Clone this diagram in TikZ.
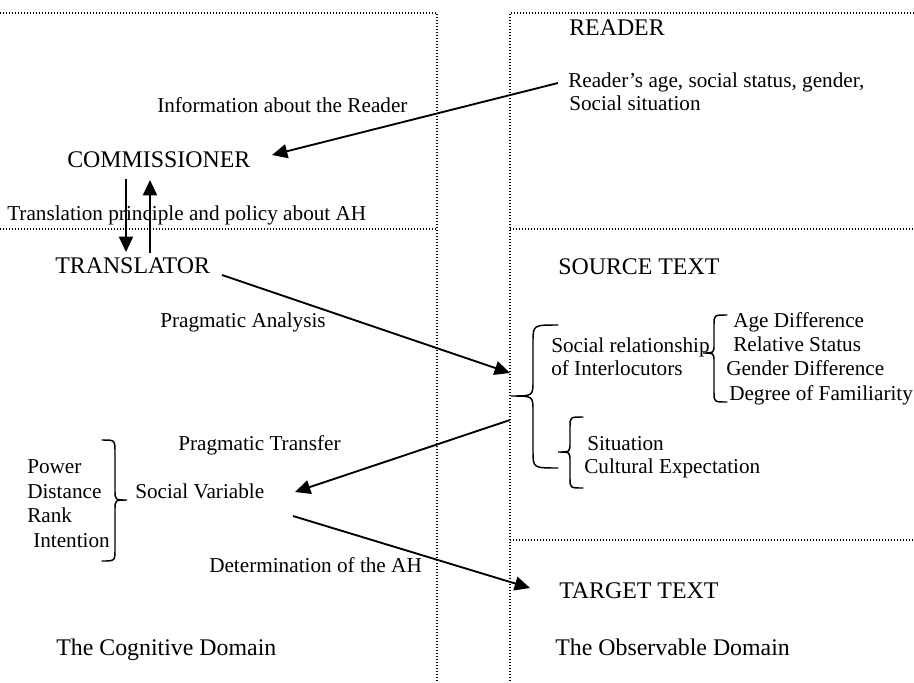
\documentclass[tikz,border=0pt]{standalone}
\usepackage{fontspec}
\setmainfont{Liberation Serif}
\usetikzlibrary{arrows.meta}
\begin{document}
\begin{tikzpicture}[x=0.75pt,y=-0.75pt,
  big/.style={font=\fontsize{17.9}{20}\selectfont, inner sep=0pt, anchor=base west},
  small/.style={font=\fontsize{15.9}{18}\selectfont, inner sep=0pt, anchor=base west},
  arr/.style={line width=1.4pt, -{Triangle[length=11.5pt,width=10.5pt]}},
  dotline/.style={line width=0.9pt, dash pattern=on 0.9pt off 1.35pt},
  bracestroke/.style={line width=1.1pt, line cap=round}]
\useasboundingbox (0,0) rectangle (914,682);

% dotted frames
\draw[dotline] (0,13) -- (437,13) -- (437,682);
\draw[dotline] (0,229) -- (437,229);
\draw[dotline] (914,13) -- (510,13) -- (510,682);
\draw[dotline] (510,229) -- (914,229);
\draw[dotline] (510,540) -- (914,540);

% texts
\node[big] (reader) at (569,35) {READER};
\node[small] (rattr1) at (568,87) {Reader’s age, social status, gender,};
\node[small] (rattr2) at (569,110) {Social situation};
\node[small] (info) at (157,112) {Information about the Reader};
\node[big] (comm) at (67,167) {COMMISSIONER};
\node[small] (policy) at (7,220) {Translation principle and policy about AH};
\node[big] (trans) at (55,273) {TRANSLATOR};
\node[big] (source) at (558,274) {SOURCE TEXT};
\node[small] (panal) at (160,327) {Pragmatic Analysis};
\node[small] (socrel1) at (551,352) {Social relationship};
\node[small] (socrel2) at (551,375) {of Interlocutors};
\node[small] (age) at (733,327) {Age Difference};
\node[small] (rel) at (733,351) {Relative Status};
\node[small] (gen) at (726,375) {Gender Difference};
\node[small] (fam) at (729,400) {Degree of Familiarity};
\node[small] (ptrans) at (178,450) {Pragmatic Transfer};
\node[small] (sit) at (587,450) {Situation};
\node[small] (cult) at (584,473) {Cultural Expectation};
\node[small] (power) at (27,473) {Power};
\node[small] (dist) at (27,498) {Distance};
\node[small] (rank) at (27,522) {Rank};
\node[small] (intent) at (33,547) {Intention};
\node[small] (socvar) at (135,498) {Social Variable};
\node[small] (determ) at (209,572) {Determination of the AH};
\node[big] (target) at (559,598) {TARGET TEXT};
\node[big] (cogn) at (56,655) {The Cognitive Domain};
\node[big] (obs) at (555,655) {The Observable Domain};

% connector end points
\coordinate (rStart) at (558,83);
\coordinate (cEnd) at (272,155);
\coordinate (downS) at (126,179);
\coordinate (downE) at (126,252);
\coordinate (upS) at (150,253);
\coordinate (upE) at (150,180);
\coordinate (tStart) at (222,275);
\coordinate (sEnd) at (510,373);
\coordinate (sStart) at (510,420);
\coordinate (vEnd) at (295,492);
\coordinate (vStart) at (293,516);
\coordinate (gEnd) at (530,588);

\draw[arr] (rStart) -- (cEnd);
\draw[arr] (downS) -- (downE);
\draw[arr] (upS) -- (upE);
\draw[arr] (tStart) -- (sEnd);
\draw[arr] (sStart) -- (vEnd);
\draw[arr] (vStart) -- (gEnd);

% big opening brace
\draw[bracestroke] (558,325) .. controls (533,325) .. (533,342) -- (533,381)
  .. controls (533,396) .. (511,396) .. controls (533,396) .. (533,411)
  -- (533,451) .. controls (533,468) .. (558,468);
% brace for social relationship factors
\draw[bracestroke] (727,315) .. controls (714,315) .. (714,325) -- (714,344)
  .. controls (714,353) .. (703,353) .. controls (714,353) .. (714,362)
  -- (714,392) .. controls (714,402) .. (727,402);
% brace for situation
\draw[bracestroke] (583,417) .. controls (570,417) .. (570,427) -- (570,443)
  .. controls (570,452) .. (558,452) .. controls (570,452) .. (570,461)
  -- (570,478) .. controls (570,488) .. (583,488);
% closing brace for social variable
\draw[bracestroke] (102,440) .. controls (115,440) .. (115,452) -- (115,490)
  .. controls (115,500) .. (127,500) .. controls (115,500) .. (115,510)
  -- (115,549) .. controls (115,561) .. (102,561);
\end{tikzpicture}
\end{document}
